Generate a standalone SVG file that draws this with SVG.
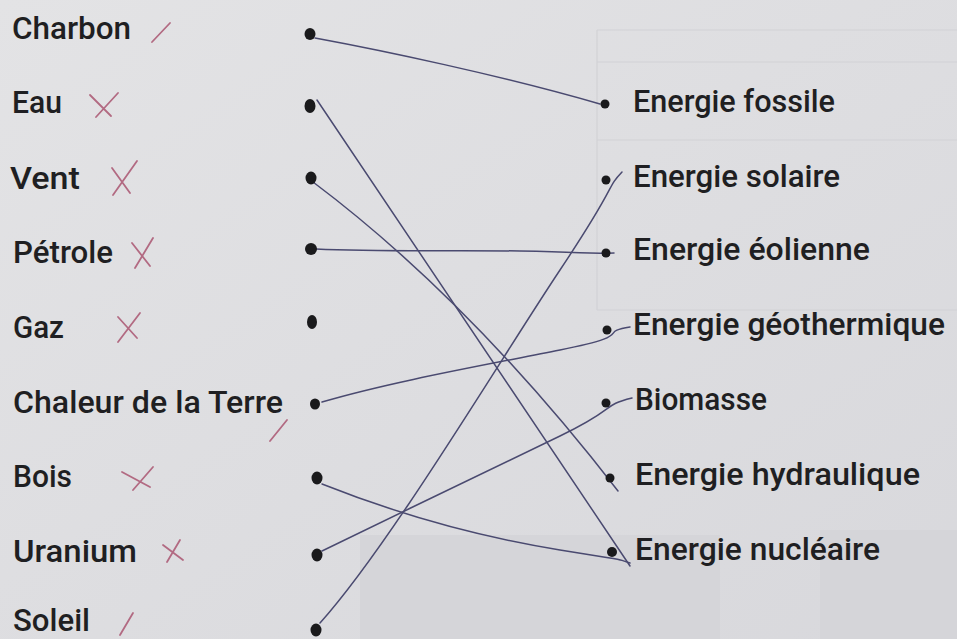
<svg xmlns="http://www.w3.org/2000/svg" width="957" height="639" viewBox="0 0 957 639">
<defs>
<linearGradient id="bg" x1="0" y1="0" x2="1" y2="1">
<stop offset="0" stop-color="#e3e3e5"/>
<stop offset="1" stop-color="#d8d8dc"/>
</linearGradient>
<style>
.lbl{font-family:Roboto,"Open Sans","Liberation Sans",sans-serif;font-size:31px;font-weight:500;fill:#1f1f22}
.dotL{fill:#1a1a1c}
.dotR{fill:#1a1a1c}
.ink{fill:none;stroke:#4a4a70;stroke-width:1.5;stroke-linecap:round;stroke-linejoin:round}
.mark{fill:none;stroke:#b26a82;stroke-width:1.8;stroke-linecap:round}
.ghost{fill:none;stroke:#d2d2d6;stroke-width:1.2}
</style>
</defs>
<rect x="0" y="0" width="957" height="639" fill="url(#bg)"/>
<g id="background">
<line class="ghost" x1="597" y1="30" x2="597" y2="310"/>
<line class="ghost" x1="597" y1="30" x2="957" y2="30"/>
<line class="ghost" x1="597" y1="62" x2="957" y2="62"/>
<line class="ghost" x1="597" y1="140" x2="957" y2="140"/>
<line class="ghost" x1="597" y1="310" x2="957" y2="310"/>
<rect x="360" y="535" width="360" height="104" fill="#d5d5d9"/>
<rect x="820" y="530" width="137" height="109" fill="#d5d5d9"/>
</g>
<g id="connectors">
<path class="ink" d="M315,38 C380,50 500,75 600,104"/>
<path class="ink" d="M317,100 L630,566"/>
<path class="ink" d="M313,182 Q470,300 618,491"/>
<path class="ink" d="M316,249 C380,252 450,250 520,251 S580,254 614,253"/>
<path class="ink" d="M322,402 C390,382 480,366 560,350 S595,333 630,327"/>
<path class="ink" d="M322,484 C400,515 480,537 560,550 S610,557 630,563"/>
<path class="ink" d="M322,551 C400,513 500,465 560,436 S600,406 632,398"/>
<path class="ink" d="M320,623 C390,545 500,360 560,270 S605,190 622,172"/>
</g>
<g id="charbon"><text class="lbl" x="12" y="39" textLength="119" lengthAdjust="spacingAndGlyphs">Charbon</text><path class="mark" d="M152,42 L170,23"/><ellipse class="dotL" cx="310" cy="34" rx="5.5" ry="6"/></g>
<g id="eau"><text class="lbl" x="12" y="113" textLength="50" lengthAdjust="spacingAndGlyphs">Eau</text><path class="mark" d="M90,95 L111,116 M118,93 L96,117"/><ellipse class="dotL" cx="310" cy="106" rx="5.5" ry="7"/></g>
<g id="vent"><text class="lbl" x="10" y="189" textLength="70" lengthAdjust="spacingAndGlyphs">Vent</text><path class="mark" d="M112,168 L130,193 M137,161 L113,195"/><ellipse class="dotL" cx="311" cy="178" rx="5.5" ry="6.5"/></g>
<g id="petrole"><text class="lbl" x="13" y="263" textLength="100" lengthAdjust="spacingAndGlyphs">Pétrole</text><path class="mark" d="M132,243 L150,266 M153,238 L135,268"/><ellipse class="dotL" cx="311" cy="249" rx="6" ry="6"/></g>
<g id="gaz"><text class="lbl" x="13" y="338" textLength="51" lengthAdjust="spacingAndGlyphs">Gaz</text><path class="mark" d="M118,317 L137,338 M140,313 L118,342"/><ellipse class="dotL" cx="312" cy="322" rx="5" ry="7"/></g>
<g id="chaleur"><text class="lbl" x="13" y="413" textLength="270" lengthAdjust="spacingAndGlyphs">Chaleur de la Terre</text><path class="mark" d="M287,420 L270,441"/><ellipse class="dotL" cx="315" cy="404" rx="5" ry="5.5"/></g>
<g id="bois"><text class="lbl" x="13" y="487" textLength="59" lengthAdjust="spacingAndGlyphs">Bois</text><path class="mark" d="M122,472 L150,487 M153,467 L133,490"/><ellipse class="dotL" cx="317" cy="478" rx="5.5" ry="6.5"/></g>
<g id="uranium"><text class="lbl" x="13" y="562" textLength="124" lengthAdjust="spacingAndGlyphs">Uranium</text><path class="mark" d="M163,545 L183,560 M180,540 L167,562"/><ellipse class="dotL" cx="317" cy="555" rx="5.5" ry="6.5"/></g>
<g id="soleil"><text class="lbl" x="13" y="631" textLength="77" lengthAdjust="spacingAndGlyphs">Soleil</text><path class="mark" d="M133,613 L120,635"/><ellipse class="dotL" cx="316" cy="630" rx="5.5" ry="6.5"/></g>
<g id="fossile"><circle class="dotR" cx="605" cy="104" r="4.5"/><text class="lbl" x="633" y="112" textLength="202" lengthAdjust="spacingAndGlyphs">Energie fossile</text></g>
<g id="solaire"><circle class="dotR" cx="606" cy="180" r="4.5"/><text class="lbl" x="633" y="187" textLength="207" lengthAdjust="spacingAndGlyphs">Energie solaire</text></g>
<g id="eolienne"><circle class="dotR" cx="606" cy="253" r="4.5"/><text class="lbl" x="633" y="260" textLength="237" lengthAdjust="spacingAndGlyphs">Energie éolienne</text></g>
<g id="geothermique"><circle class="dotR" cx="607" cy="330" r="4.5"/><text class="lbl" x="633" y="335" textLength="312" lengthAdjust="spacingAndGlyphs">Energie géothermique</text></g>
<g id="biomasse"><circle class="dotR" cx="606" cy="403" r="4.5"/><text class="lbl" x="635" y="410" textLength="132" lengthAdjust="spacingAndGlyphs">Biomasse</text></g>
<g id="hydraulique"><circle class="dotR" cx="610" cy="478" r="4.5"/><text class="lbl" x="635" y="485" textLength="285" lengthAdjust="spacingAndGlyphs">Energie hydraulique</text></g>
<g id="nucleaire"><circle class="dotR" cx="612" cy="552" r="5"/><text class="lbl" x="635" y="560" textLength="245" lengthAdjust="spacingAndGlyphs">Energie nucléaire</text></g>
</svg>
